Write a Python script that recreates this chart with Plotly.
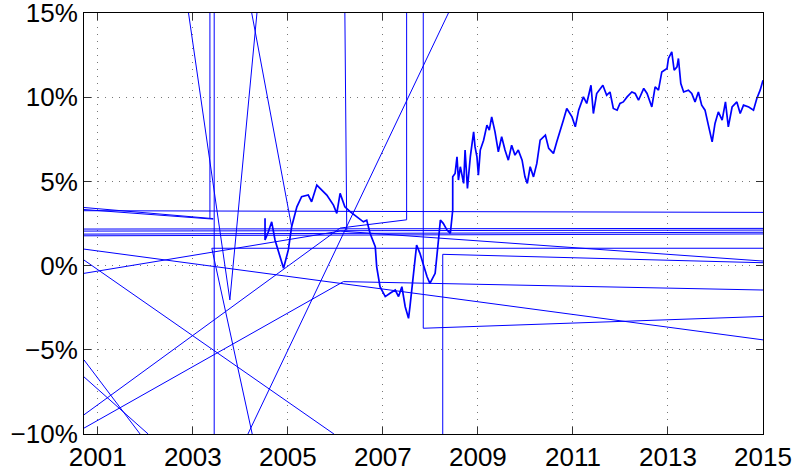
import plotly.graph_objects as go

# Daily spread series (decimal year, percent)
years = [2004.52, 2004.52, 2004.59, 2004.66, 2004.73, 2004.80, 2004.91, 2005.01, 2005.08, 2005.19,
         2005.29, 2005.43, 2005.50, 2005.61, 2005.71, 2005.82, 2005.96, 2006.03, 2006.10, 2006.20,
         2006.31, 2006.45, 2006.59, 2006.66, 2006.73, 2006.84, 2006.87, 2006.94, 2007.05, 2007.15,
         2007.26, 2007.33, 2007.40, 2007.47, 2007.54, 2007.57, 2007.64, 2007.71, 2007.78, 2007.85,
         2007.93, 2007.99, 2008.03, 2008.10, 2008.17, 2008.21, 2008.27, 2008.35, 2008.42, 2008.47,
         2008.47, 2008.52, 2008.56, 2008.59, 2008.63, 2008.70, 2008.73, 2008.78, 2008.84, 2008.91,
         2008.94, 2008.98, 2009.01, 2009.05, 2009.12, 2009.19, 2009.24, 2009.29, 2009.36, 2009.43,
         2009.50, 2009.57, 2009.64, 2009.71, 2009.78, 2009.85, 2009.93, 2009.99, 2010.04, 2010.10,
         2010.17, 2010.24, 2010.31, 2010.42, 2010.49, 2010.59, 2010.66, 2010.73, 2010.80, 2010.87,
         2010.98, 2011.05, 2011.12, 2011.22, 2011.29, 2011.38, 2011.43, 2011.50, 2011.63, 2011.71,
         2011.78, 2011.85, 2011.93, 2011.99, 2012.06, 2012.14, 2012.24, 2012.31, 2012.38, 2012.49,
         2012.56, 2012.66, 2012.73, 2012.80, 2012.87, 2012.98, 2013.01, 2013.08, 2013.13, 2013.19,
         2013.22, 2013.27, 2013.33, 2013.43, 2013.50, 2013.57, 2013.64, 2013.71, 2013.78, 2013.85,
         2013.93, 2013.99, 2014.06, 2014.14, 2014.21, 2014.27, 2014.35, 2014.45, 2014.52, 2014.59,
         2014.70, 2014.80, 2014.87, 2014.94, 2015.00]

spread = [2.81, 1.52, 2.01, 2.60, 1.52, 0.82, -0.16, 0.93, 2.31, 3.49,
          4.09, 4.19, 3.79, 4.78, 4.48, 4.19, 3.59, 3.10, 4.29, 3.49,
          3.20, 2.90, 2.60, 2.70, 1.92, 1.12, -0.07, -1.25, -1.84, -1.64,
          -1.45, -1.84, -1.25, -2.44, -3.13, -2.44, -0.66, 1.22, 0.73, 0.04,
          -0.66, -1.05, -0.85, -0.46, 1.52, 2.70, 2.51, 2.11, 1.92, 3.30,
          5.27, 5.47, 6.46, 5.08, 5.87, 4.88, 6.86, 4.58, 6.46, 7.94,
          7.05, 6.46, 5.37, 6.86, 7.45, 8.34, 8.04, 8.83, 7.94, 6.76,
          7.65, 6.86, 6.26, 7.15, 6.56, 6.86, 6.26, 5.27, 4.88, 5.87,
          5.27, 6.07, 7.45, 7.75, 6.96, 6.66, 7.35, 7.94, 8.64, 9.33,
          8.83, 8.24, 9.23, 10.02, 9.63, 10.71, 9.03, 10.22, 10.71, 10.12,
          10.31, 9.33, 9.23, 9.63, 9.72, 10.02, 10.31, 10.22, 9.82, 10.52,
          10.22, 9.42, 10.61, 10.42, 11.50, 11.70, 12.30, 12.69, 11.60, 11.80,
          12.30, 10.81, 10.31, 10.42, 10.22, 9.72, 10.31, 9.53, 9.23, 8.34,
          7.35, 8.44, 9.13, 8.64, 9.72, 8.24, 9.42, 9.72, 9.03, 9.53,
          9.42, 9.23, 9.92, 10.42, 11.01]

# Out-of-order records: each run is joined in file order, runs split by None
stray_years = [2002.91, 2003.78, 2004.35, None,
               2004.24, 2005.08, None,
               2003.36, 2003.36, None,
               2000.71, 2003.43, None,
               2000.71, 2003.43, None,
               2003.45, 2003.45, None,
               2015.00, 2003.40, 2004.25, None,
               2000.71, 2015.00, None,
               2000.71, 2015.00, None,
               2000.71, 2015.00, None,
               2000.71, 2015.00, None,
               2000.71, 2015.00, None,
               2000.71, 2015.00, None,
               2000.71, 2006.10, 2015.00, None,
               2000.71, 2006.17, 2015.00, None,
               2000.71, 2006.10, 2007.50, 2007.50, None,
               2004.16, 2008.38, None,
               2000.71, 2005.97, None,
               2000.71, 2001.89, None,
               2000.71, 2002.06, None,
               2006.20, 2006.24, None,
               2007.85, 2007.85, 2015.00, None,
               2015.00, 2008.26, 2008.26]

stray_values = [15.0, -2.04, 15.0, None,
                15.0, 2.31, None,
                15.0, 2.82, None,
                3.45, 2.79, None,
                3.33, 2.76, None,
                15.0, -10.0, None,
                1.03, 1.03, -10.0, None,
                3.26, 3.16, None,
                2.17, 2.21, None,
                2.05, 2.11, None,
                1.87, 1.98, None,
                1.77, 1.88, None,
                0.98, -4.41, None,
                -0.46, 2.05, 0.27, None,
                -9.65, -0.95, -1.45, None,
                -8.86, 2.23, 2.72, 15.0, None,
                -10.0, 15.0, None,
                0.33, -10.0, None,
                -5.60, -10.0, None,
                -6.61, -10.0, None,
                15.0, 2.11, None,
                15.0, -3.72, -3.02, None,
                0.17, 0.67, -10.0]

x_ticks = [2001, 2003, 2005, 2007, 2009, 2011, 2013, 2015]
y_ticks = [-10, -5, 0, 5, 10, 15]
y_labels = ["\u221210%", "\u22125%", "0%", "5%", "10%", "15%"]

BLUE = "#0000ff"

fig = go.Figure()
fig.add_trace(go.Scatter(x=stray_years, y=stray_values, mode="lines",
                         line=dict(color=BLUE, width=1), connectgaps=False,
                         hoverinfo="skip", showlegend=False))
fig.add_trace(go.Scatter(x=years, y=spread, mode="lines",
                         line=dict(color=BLUE, width=1.7), showlegend=False))

axis_common = dict(
    showline=True, linecolor="black", linewidth=1, mirror="ticks",
    ticks="inside", ticklen=7, tickcolor="#333333", tickwidth=1,
    showgrid=True, gridcolor="#777777", griddash="1px,6px", gridwidth=1,
    zeroline=False, automargin=False, ticklabeloverflow="allow",
    tickfont=dict(family="Liberation Sans, Arial, sans-serif", size=26, color="black"),
)

fig.update_xaxes(range=[2000.71, 2015.0], tickvals=x_ticks,
                 ticktext=[str(v) for v in x_ticks], **axis_common)
fig.update_yaxes(range=[-10.0, 15.0005], tickvals=y_ticks, ticktext=y_labels, **axis_common)

fig.update_layout(
    width=796, height=471,
    margin=dict(l=84, r=33, t=13, b=37),
    paper_bgcolor="white", plot_bgcolor="white",
    showlegend=False,
)

fig.write_html("out.html")
